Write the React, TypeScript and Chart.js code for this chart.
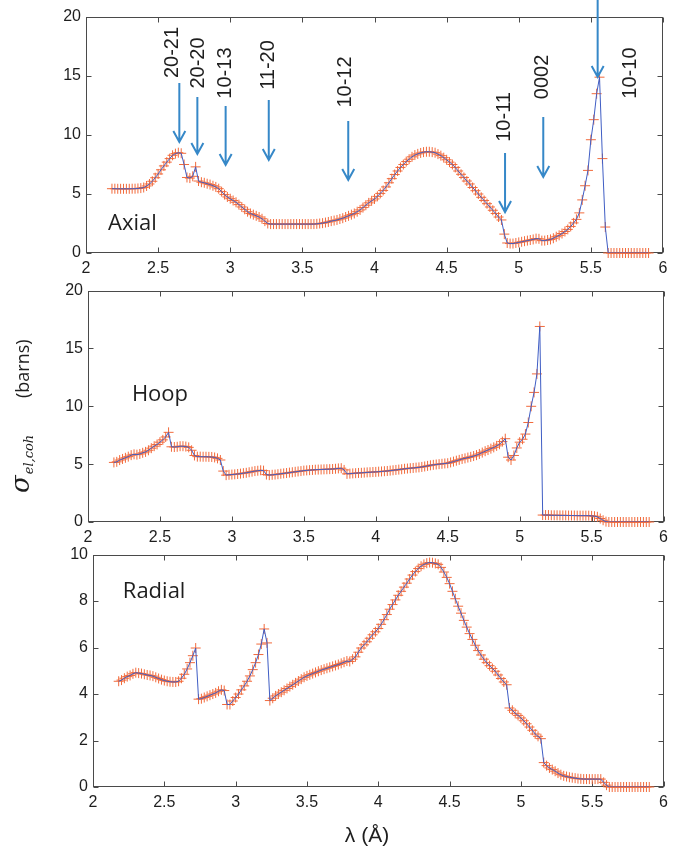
import React, { useEffect, useRef } from 'react';
import { Chart, registerables } from 'chart.js';

Chart.register(...registerables);

// ---------- data ----------
const lambda = [
  2.18, 2.20, 2.22, 2.24, 2.26, 2.28, 2.30, 2.32, 2.34, 2.36,
  2.38, 2.40, 2.42, 2.44, 2.46, 2.48, 2.50, 2.52, 2.54, 2.56,
  2.58, 2.60, 2.62, 2.64, 2.66, 2.68, 2.70, 2.72, 2.74, 2.76,
  2.78, 2.80, 2.82, 2.84, 2.86, 2.88, 2.90, 2.92, 2.94, 2.96,
  2.98, 3.00, 3.02, 3.04, 3.06, 3.08, 3.10, 3.12, 3.14, 3.16,
  3.18, 3.20, 3.22, 3.24, 3.26, 3.28, 3.30, 3.32, 3.34, 3.36,
  3.38, 3.40, 3.42, 3.44, 3.46, 3.48, 3.50, 3.52, 3.54, 3.56,
  3.58, 3.60, 3.62, 3.64, 3.66, 3.68, 3.70, 3.72, 3.74, 3.76,
  3.78, 3.80, 3.82, 3.84, 3.86, 3.88, 3.90, 3.92, 3.94, 3.96,
  3.98, 4.00, 4.02, 4.04, 4.06, 4.08, 4.10, 4.12, 4.14, 4.16,
  4.18, 4.20, 4.22, 4.24, 4.26, 4.28, 4.30, 4.32, 4.34, 4.36,
  4.38, 4.40, 4.42, 4.44, 4.46, 4.48, 4.50, 4.52, 4.54, 4.56,
  4.58, 4.60, 4.62, 4.64, 4.66, 4.68, 4.70, 4.72, 4.74, 4.76,
  4.78, 4.80, 4.82, 4.84, 4.86, 4.88, 4.90, 4.92, 4.94, 4.96,
  4.98, 5.00, 5.02, 5.04, 5.06, 5.08, 5.10, 5.12, 5.14, 5.16,
  5.18, 5.20, 5.22, 5.24, 5.26, 5.28, 5.30, 5.32, 5.34, 5.36,
  5.38, 5.40, 5.42, 5.44, 5.46, 5.48, 5.50, 5.52, 5.54, 5.56,
  5.58, 5.60, 5.62, 5.64, 5.66, 5.68, 5.70, 5.72, 5.74, 5.76,
  5.78, 5.80, 5.82, 5.84, 5.86, 5.88, 5.90,
];

const axialSigma = [
  5.45, 5.45, 5.44, 5.44, 5.44, 5.44, 5.44, 5.45, 5.45, 5.47,
  5.5, 5.55, 5.68, 5.85, 6.08, 6.38, 6.7, 7.05, 7.38, 7.7,
  8.0, 8.28, 8.42, 8.5, 8.45, 7.5, 6.4, 6.35, 6.5, 7.3,
  6.1, 6.0, 5.95, 5.87, 5.8, 5.7, 5.6, 5.45, 5.2, 4.95,
  4.75, 4.6, 4.45, 4.3, 4.1, 3.9, 3.7, 3.5, 3.35, 3.25,
  3.15, 3.05, 2.9, 2.7, 2.5, 2.45, 2.45, 2.45, 2.45, 2.45,
  2.45, 2.45, 2.45, 2.45, 2.45, 2.45, 2.45, 2.45, 2.45, 2.45,
  2.45, 2.47, 2.5, 2.53, 2.58, 2.63, 2.7, 2.75, 2.8, 2.88,
  2.95, 3.05, 3.15, 3.25, 3.35, 3.5, 3.65, 3.85, 4.05, 4.25,
  4.42, 4.58, 4.8, 5.05, 5.3, 5.6, 5.95, 6.3, 6.65, 6.95,
  7.25, 7.5, 7.75, 7.95, 8.15, 8.3, 8.4, 8.48, 8.55, 8.58,
  8.58, 8.55, 8.5, 8.38, 8.25, 8.08, 7.9, 7.7, 7.5, 7.25,
  6.95, 6.67, 6.4, 6.1, 5.85, 5.55, 5.28, 5.0, 4.72, 4.45,
  4.18, 3.9, 3.62, 3.35, 3.05, 2.8, 1.6, 0.85, 0.8, 0.8,
  0.85, 0.9, 0.95, 1.0, 1.05, 1.1, 1.15, 1.22, 1.2, 1.05,
  1.05, 1.1, 1.15, 1.25, 1.38, 1.5, 1.65, 1.82, 2.0, 2.25,
  2.55, 2.85, 3.4, 4.5, 5.7, 7.0, 9.6, 11.3, 13.5, 14.9,
  8.0, 2.2, 0, 0, 0, 0, 0, 0, 0, 0,
  0, 0, 0, 0, 0, 0, 0,
];

const hoopSigma = [
  5.15, 5.2, 5.35, 5.45, 5.55, 5.65, 5.78, 5.85, 5.82, 5.88,
  5.98, 6.06, 6.2, 6.38, 6.55, 6.7, 6.9, 7.1, 7.35, 7.75,
  6.5, 6.48, 6.5, 6.55, 6.55, 6.52, 6.45, 6.2, 5.75, 5.65,
  5.65, 5.64, 5.64, 5.63, 5.62, 5.58, 5.5, 5.36, 4.4, 4.05,
  4.08, 4.1, 4.12, 4.15, 4.18, 4.22, 4.25, 4.3, 4.35, 4.4,
  4.43, 4.47, 4.44, 4.1, 4.05, 4.08, 4.1, 4.13, 4.17, 4.2,
  4.23, 4.27, 4.3, 4.34, 4.37, 4.4, 4.44, 4.46, 4.48, 4.5,
  4.52, 4.53, 4.54, 4.55, 4.56, 4.57, 4.58, 4.6, 4.63, 4.65,
  4.5, 4.16, 4.18, 4.2, 4.22, 4.24, 4.25, 4.27, 4.29, 4.3,
  4.32, 4.33, 4.35, 4.37, 4.39, 4.41, 4.44, 4.47, 4.5, 4.53,
  4.56, 4.6, 4.62, 4.65, 4.67, 4.7, 4.72, 4.76, 4.8, 4.85,
  4.9, 4.94, 4.97, 5.0, 5.03, 5.06, 5.08, 5.15, 5.22, 5.3,
  5.37, 5.45, 5.5, 5.57, 5.63, 5.7, 5.78, 5.88, 6.0, 6.12,
  6.22, 6.34, 6.45, 6.58, 6.72, 6.95, 7.2, 5.6, 5.36, 5.75,
  6.4, 6.9, 7.15, 7.6, 8.6, 10.0, 11.2, 12.8, 16.9, 0.6,
  0.6, 0.6, 0.58, 0.58, 0.58, 0.57, 0.57, 0.57, 0.56, 0.56,
  0.56, 0.55, 0.55, 0.55, 0.55, 0.55, 0.53, 0.5, 0.45, 0.3,
  0.15, 0.03, 0, 0, 0, 0, 0, 0, 0, 0,
  0, 0, 0, 0, 0, 0, 0,
];

const radialSigma = [
  4.55, 4.6, 4.68, 4.75, 4.8, 4.87, 4.92, 4.9, 4.88, 4.85,
  4.82, 4.8, 4.77, 4.72, 4.67, 4.62, 4.58, 4.55, 4.53, 4.52,
  4.52, 4.55, 4.68, 4.85, 5.08, 5.35, 5.65, 5.98, 3.78, 3.8,
  3.85, 3.9, 3.95, 4.0, 4.05, 4.12, 4.18, 4.15, 3.55, 3.55,
  3.7, 3.85, 4.0, 4.18, 4.35, 4.55, 4.78, 5.05, 5.35, 5.7,
  6.15, 6.8, 6.2, 3.72, 3.82, 3.92, 4.0, 4.08, 4.16, 4.24,
  4.32, 4.4, 4.48, 4.56, 4.64, 4.72, 4.78, 4.83, 4.88, 4.93,
  4.98, 5.03, 5.07, 5.11, 5.15, 5.19, 5.23, 5.27, 5.32, 5.37,
  5.42, 5.4, 5.5, 5.6, 5.8, 5.98, 6.12, 6.25, 6.4, 6.55,
  6.68, 6.82, 7.0, 7.2, 7.42, 7.65, 7.85, 8.05, 8.25, 8.42,
  8.6, 8.77, 8.95, 9.12, 9.27, 9.4, 9.5, 9.58, 9.63, 9.66,
  9.65, 9.62, 9.58, 9.45, 9.25, 9.02, 8.75, 8.42, 8.1, 7.78,
  7.48, 7.17, 6.88, 6.6, 6.35, 6.1, 5.87, 5.68, 5.5, 5.35,
  5.22, 5.1, 4.98, 4.82, 4.67, 4.52, 4.4, 3.4, 3.3, 3.17,
  3.08, 2.97, 2.85, 2.72, 2.58, 2.44, 2.28, 2.18, 2.08, 1.05,
  0.92, 0.82, 0.75, 0.68, 0.6, 0.53, 0.48, 0.45, 0.42, 0.4,
  0.38, 0.36, 0.35, 0.34, 0.34, 0.34, 0.34, 0.34, 0.34, 0.34,
  0.2, 0.08, 0, 0, 0, 0, 0, 0, 0, 0,
  0, 0, 0, 0, 0, 0, 0,
];

// axis ranges
const xMin = 2;
const xMax = 6;
const xStep = 0.5;
const axialYMax = 20;
const hoopYMax = 20;
const radialYMax = 10;
const axialYStep = 5;
const hoopYStep = 5;
const radialYStep = 2;

// panel names and their anchor positions (data units)
const panelNames = ['Axial', 'Hoop', 'Radial'];
const panelNameLambda = [2.153, 2.305, 2.209];
const panelNameSigma = [1.95, 10.47, 8.13];

// Bragg-edge annotations on the axial panel
const reflectionLabels = ['20-21', '20-20', '10-13', '11-20', '10-12', '10-11', '0002', '10-10'];
const arrowLambda = [2.647, 2.772, 2.968, 3.267, 3.818, 4.905, 5.170, 5.547];
const arrowTop = [14.41, 13.22, 12.46, 12.97, 11.19, 8.47, 11.53, 21.44];
const arrowTip = [9.41, 8.39, 7.46, 7.88, 6.19, 3.47, 6.44, 14.92];
const labelLambda = [2.600, 2.783, 2.964, 3.262, 3.802, 4.898, 5.168, 5.778];
const labelSigma = [16.99, 16.10, 15.25, 15.93, 14.49, 11.53, 14.92, 15.25];

// ---------- styles ----------
const BLUE = '#3f5dc4';
const ORANGE = '#f26a3b';
const ARROW = '#3688c8';
const AXIS = '#4a4a4a';
const TEXT = '#1e1e1e';
const TICK_FONT = { family: '"Liberation Sans", Arial, sans-serif', size: 16 };

const fmtTick = (v: any) => String(Number(v));

const framePlugin = {
  id: 'frameBox',
  beforeDatasetsDraw(chart: any) {
    const { ctx, chartArea: a } = chart;
    const xs = chart.scales.x;
    const ys = chart.scales.y;
    const L = Math.round(a.left) + 0.5;
    const R = Math.round(a.right) - 0.5;
    const T = Math.round(a.top) + 0.5;
    const B = Math.round(a.bottom) - 0.5;
    const len = 5;
    ctx.save();
    ctx.strokeStyle = AXIS;
    ctx.lineWidth = 1;
    ctx.strokeRect(L, T, R - L, B - T);
    ctx.beginPath();
    xs.ticks.forEach((t: any) => {
      const p = Math.round(xs.getPixelForValue(t.value)) + 0.5;
      ctx.moveTo(p, B); ctx.lineTo(p, B - len);
      ctx.moveTo(p, T); ctx.lineTo(p, T + len);
    });
    ys.ticks.forEach((t: any) => {
      const p = Math.round(ys.getPixelForValue(t.value)) + 0.5;
      ctx.moveTo(L, p); ctx.lineTo(L + len, p);
      ctx.moveTo(R, p); ctx.lineTo(R - len, p);
    });
    ctx.stroke();
    ctx.restore();
  },
};

const panelLabelPlugin = {
  id: 'panelLabel',
  afterDatasetsDraw(chart: any, _args: any, opts: any) {
    const { ctx } = chart;
    ctx.save();
    ctx.font = '22px "Open Sans", sans-serif';
    ctx.fillStyle = TEXT;
    ctx.textAlign = 'left';
    ctx.textBaseline = 'alphabetic';
    ctx.fillText(opts.text, chart.scales.x.getPixelForValue(opts.lx), chart.scales.y.getPixelForValue(opts.ly));
    ctx.restore();
  },
};

const arrowPlugin = {
  id: 'reflectionArrows',
  afterDatasetsDraw(chart: any) {
    const { ctx } = chart;
    const xs = chart.scales.x;
    const ys = chart.scales.y;
    ctx.save();
    ctx.strokeStyle = ARROW;
    ctx.lineWidth = 2;
    reflectionLabels.forEach((_, i) => {
      const x = xs.getPixelForValue(arrowLambda[i]);
      const y1 = ys.getPixelForValue(arrowTop[i]);
      const y2 = ys.getPixelForValue(arrowTip[i]);
      ctx.beginPath();
      ctx.moveTo(x, y1);
      ctx.lineTo(x, y2 - 1);
      ctx.moveTo(x - 6, y2 - 11);
      ctx.lineTo(x, y2);
      ctx.lineTo(x + 6, y2 - 11);
      ctx.stroke();
    });
    ctx.fillStyle = TEXT;
    ctx.font = '20px "Liberation Sans", Arial, sans-serif';
    ctx.textAlign = 'center';
    ctx.textBaseline = 'middle';
    reflectionLabels.forEach((t, i) => {
      ctx.save();
      ctx.translate(xs.getPixelForValue(labelLambda[i]), ys.getPixelForValue(labelSigma[i]));
      ctx.rotate(-Math.PI / 2);
      ctx.fillText(t, 0, 0);
      ctx.restore();
    });
    ctx.restore();
  },
};

// y-axis title drawn on the hoop canvas (page coords converted)
const HOOP_TOP = 276;
const RADIAL_TOP = 540;
const yTitlePlugin = {
  id: 'yTitle',
  afterDraw(chart: any) {
    const { ctx } = chart;
    ctx.save();
    ctx.translate(29, 493 - HOOP_TOP);
    ctx.rotate(-Math.PI / 2);
    ctx.fillStyle = TEXT;
    ctx.textAlign = 'left';
    ctx.textBaseline = 'alphabetic';
    ctx.font = 'italic 26px "DejaVu Serif", serif';
    ctx.fillText('σ', 0, 0);
    const w = ctx.measureText('σ').width;
    ctx.font = 'italic 13px "DejaVu Serif", serif';
    ctx.fillText('el,coh', w + 1, 4);
    ctx.font = '18px "Open Sans", sans-serif';
    ctx.fillText('(barns)', 95, 0);
    ctx.restore();
  },
};

const xTitlePlugin = {
  id: 'xTitle',
  afterDraw(chart: any) {
    const { ctx } = chart;
    ctx.save();
    ctx.fillStyle = TEXT;
    ctx.font = '21px "Liberation Sans", Arial, sans-serif';
    ctx.textAlign = 'center';
    ctx.textBaseline = 'alphabetic';
    ctx.fillText('λ (Å)', 367, 842 - RADIAL_TOP);
    ctx.restore();
  },
};

function makeConfig(
  sigma: number[], yMax: number, yStep: number, idx: number,
  yWidth: number, xHeight: number, padding: any, extra: any[],
) {
  const pts = lambda.map((l, i) => ({ x: l, y: sigma[i] }));
  return {
    type: 'scatter',
    data: {
      datasets: [
        {
          data: pts, showLine: true, borderColor: BLUE, borderWidth: 1,
          pointRadius: 0, pointHoverRadius: 0, order: 0, fill: false, tension: 0,
        },
        {
          data: pts, showLine: false, pointStyle: 'cross', pointRadius: 5, pointHoverRadius: 5,
          pointBorderColor: ORANGE, pointBackgroundColor: ORANGE, pointBorderWidth: 1,
          borderColor: ORANGE, order: 1, clip: false,
        },
      ],
    },
    options: {
      animation: false,
      responsive: false,
      events: [],
      layout: { padding },
      plugins: {
        legend: { display: false },
        tooltip: { enabled: false },
        panelLabel: { text: panelNames[idx], lx: panelNameLambda[idx], ly: panelNameSigma[idx] },
      },
      scales: {
        x: {
          type: 'linear', min: xMin, max: xMax,
          ticks: { stepSize: xStep, font: TICK_FONT, color: TEXT, padding: 6, maxRotation: 0, autoSkip: false, callback: fmtTick },
          grid: { display: false, drawTicks: false },
          border: { display: false },
          afterFit: (s: any) => { s.height = xHeight; },
        },
        y: {
          type: 'linear', min: 0, max: yMax,
          ticks: { stepSize: yStep, font: TICK_FONT, color: TEXT, padding: 5, callback: fmtTick },
          grid: { display: false, drawTicks: false },
          border: { display: false },
          afterFit: (s: any) => { s.width = yWidth; },
        },
      },
    },
    plugins: [framePlugin, panelLabelPlugin, ...extra],
  } as any;
}

export default function App() {
  const r1 = useRef<HTMLCanvasElement>(null);
  const r2 = useRef<HTMLCanvasElement>(null);
  const r3 = useRef<HTMLCanvasElement>(null);

  useEffect(() => {
    const c1 = new Chart(r1.current as HTMLCanvasElement,
      makeConfig(axialSigma, axialYMax, axialYStep, 0, 86, 27, { top: 17, right: 11, left: 0, bottom: 0 }, [arrowPlugin]));
    const c2 = new Chart(r2.current as HTMLCanvasElement,
      makeConfig(hoopSigma, hoopYMax, hoopYStep, 1, 88, 28, { top: 11, right: 9, left: 0, bottom: 0 }, [yTitlePlugin]));
    const c3 = new Chart(r3.current as HTMLCanvasElement,
      makeConfig(radialSigma, radialYMax, radialYStep, 2, 93, 30, { top: 12, right: 6, left: 0, bottom: 32 }, [xTitlePlugin]));
    return () => { c1.destroy(); c2.destroy(); c3.destroy(); };
  }, []);

  return (
    <div style={{ position: 'absolute', left: 0, top: 0, width: 674, height: 849, background: '#fff', overflow: 'hidden' }}>
      <canvas ref={r1} width={674} height={280} style={{ position: 'absolute', left: 0, top: 0 }} />
      <canvas ref={r2} width={674} height={274} style={{ position: 'absolute', left: 0, top: HOOP_TOP }} />
      <canvas ref={r3} width={674} height={309} style={{ position: 'absolute', left: 0, top: RADIAL_TOP }} />
    </div>
  );
}
